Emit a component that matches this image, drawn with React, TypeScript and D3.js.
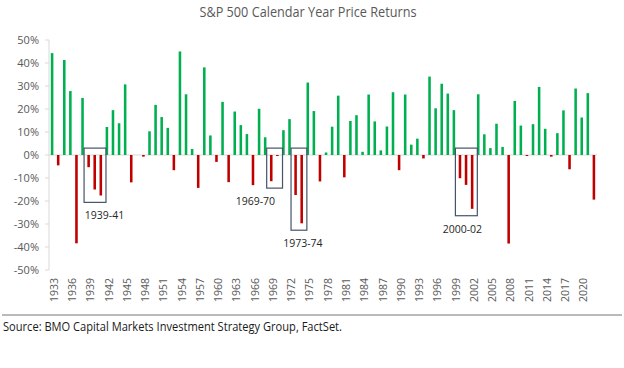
import * as d3 from 'd3';

const years = d3.range(1933, 2023);

// calendar-year price return, %
const returns = [
  44.3, -4.5, 41.3, 27.8, -38.4, 24.8, -5.3, -15.0, -17.6, 12.2,
  19.5, 13.8, 30.7, -11.9, 0, -0.7, 10.3, 21.8, 16.5, 11.8,
  -6.6, 45.0, 26.4, 2.6, -14.3, 38.1, 8.5, -3.0, 23.1, -11.8,
  18.9, 13.0, 9.1, -13.1, 20.1, 7.7, -11.4, -0.4, 10.8, 15.6,
  -17.4, -29.7, 31.5, 19.1, -11.5, 1.1, 12.3, 25.8, -9.7, 14.8,
  17.3, 1.4, 26.3, 14.6, 2.0, 12.4, 27.3, -6.6, 26.3, 4.5,
  7.1, -1.5, 34.1, 20.3, 31.0, 26.7, 19.5, -10.1, -13.0, -23.4,
  26.4, 9.0, 3.0, 13.6, 3.5, -38.5, 23.5, 12.8, -0.3, 13.4,
  29.6, 11.4, -0.7, 9.5, 19.4, -6.2, 28.9, 16.3, 26.9, -19.4,
];

const yTicks = [-50, -40, -30, -20, -10, 0, 10, 20, 30, 40, 50];
const xTickYears = d3.range(1933, 2021, 3);

const bearRuns = [
  { start: 1939, end: 1941, label: '1939-41', labelYear: 1941.6 },
  { start: 1969, end: 1970, label: '1969-70', labelYear: 1966.4 },
  { start: 1973, end: 1974, label: '1973-74', labelYear: 1974.2 },
  { start: 2000, end: 2002, label: '2000-02', labelYear: 2000.4 },
];

const W = 624;
const H = 368;
const font = '"Open Sans", "Noto Sans", sans-serif';
const grey = '#595959';
const axisGrey = '#d9d9d9';

export default function App() {
  const x = d3.scaleBand<number>()
    .domain(years)
    .range([49, 597])
    .paddingInner(0.58)
    .paddingOuter(0.3);

  const y = d3.scaleLinear().domain([-50, 50]).range([270, 40]);

  const step = x.step();
  const bw = x.bandwidth();
  const cx = (yr: number) => (x(yr) ?? 0) + bw / 2;
  const cxf = (yr: number) => cx(years[0]) + (yr - years[0]) * step;

  return (
    <svg width={W} height={H} style={{ position: 'absolute', left: 0, top: 0, background: '#fff' }}>
      {/* title */}
      <text x={308} y={17} textAnchor="middle" fontFamily={font} fontSize={14}
        fill={grey} textLength={217} lengthAdjust="spacingAndGlyphs">
        S&amp;P 500 Calendar Year Price Returns
      </text>

      {/* y axis */}
      <line x1={49} x2={49} y1={y(50)} y2={y(-50)} stroke={axisGrey} />
      {yTicks.map(t => (
        <g key={t}>
          <line x1={45} x2={49} y1={y(t)} y2={y(t)} stroke={axisGrey} />
          <text x={39} y={y(t)} dy="0.35em" textAnchor="end" fontFamily={font}
            fontSize={11} fill={grey}>{`${t}%`}</text>
        </g>
      ))}

      {/* zero line */}
      <line x1={49} x2={597} y1={y(0)} y2={y(0)} stroke={axisGrey} />

      {/* bars */}
      {years.map((yr, i) => {
        const v = returns[i];
        if (v === 0) return null;
        const y0 = y(Math.max(0, v));
        const h = Math.max(1, Math.abs(y(v) - y(0)));
        return (
          <rect key={yr} x={x(yr)} y={y0} width={bw} height={h}
            fill={v > 0 ? '#00b050' : '#c00000'} />
        );
      })}

      {/* highlighted bear runs */}
      {bearRuns.map(r => {
        const low = d3.min(years.filter(yr => yr >= r.start && yr <= r.end),
          yr => returns[years.indexOf(yr)]) ?? 0;
        const x0 = cx(r.start) - step * 0.75;
        const x1 = cx(r.end) + step * 0.85;
        const top = y(3);
        const bottom = y(low - 3);
        return (
          <g key={r.label}>
            <rect x={x0} y={top} width={x1 - x0} height={bottom - top}
              fill="none" stroke="#44546a" strokeWidth={1.2} />
            <text x={cxf(r.labelYear)} y={bottom + 17} textAnchor="middle"
              fontFamily={font} fontSize={10.5} fill="#262626">{r.label}</text>
          </g>
        );
      })}

      {/* x tick labels */}
      {xTickYears.map(yr => (
        <text key={yr} transform={`translate(${cx(yr) + 2},278) rotate(-90)`}
          dy="0.35em" textAnchor="end" fontFamily={font} fontSize={10.5} fill={grey}>
          {yr}
        </text>
      ))}

      {/* source */}
      <line x1={2} x2={622} y1={315} y2={315} stroke="#777" strokeWidth={1} />
      <text x={3} y={331} fontFamily={font} fontSize={12.5} fill="#1a1a1a"
        textLength={339} lengthAdjust="spacingAndGlyphs">
        Source: BMO Capital Markets Investment Strategy Group, FactSet.
      </text>
    </svg>
  );
}
